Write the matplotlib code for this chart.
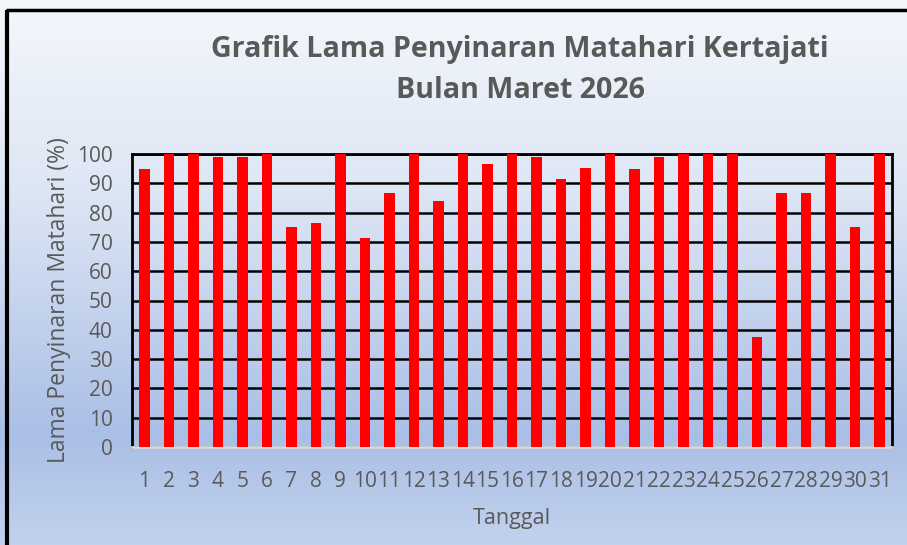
import matplotlib
matplotlib.use("Agg")
import matplotlib.pyplot as plt
import numpy as np
from matplotlib.colors import LinearSegmentedColormap

days = [str(i) for i in range(1, 32)]
values = [95, 100, 100, 99, 99, 100, 75, 76.3, 100, 71.4, 86.6, 100, 84.1, 100, 96.5,
          100, 99, 91.5, 95.1, 100, 95, 99, 100, 100, 100, 37.6, 86.6, 86.6, 100, 75, 100]
yticks = [0, 10, 20, 30, 40, 50, 60, 70, 80, 90, 100]
title = "Grafik Lama Penyinaran Matahari Kertajati\nBulan Maret 2026"
xlabel = "Tanggal"
ylabel = "Lama Penyinaran Matahari (%)"

plt.rcParams['font.family'] = ['Open Sans', 'DejaVu Sans']
W, H = 907, 545
fig = plt.figure(figsize=(W / 100, H / 100), dpi=100)

# background gradient
bg = fig.add_axes([0, 0, 1, 1], zorder=0)
cmap = LinearSegmentedColormap.from_list(
    "bg", [(0.0, "#f4f7fc"), (0.35, "#dde6f4"), (0.8, "#aabfe6"), (1.0, "#c2d2ed")])
grad = np.linspace(0, 1, 256).reshape(-1, 1)
bg.imshow(grad, aspect='auto', cmap=cmap, extent=[0, 1, 0, 1], origin='upper')
bg.set_xlim(0, 1)
bg.set_ylim(0, 1)
bg.axis('off')
# frame lines (top and left)
bg.plot([6 / W, 1], [1 - 10 / H, 1 - 10 / H], color='black', lw=2.5, solid_capstyle='butt')
bg.plot([7 / W, 7 / W], [0, 1 - 10 / H], color='black', lw=3, solid_capstyle='butt')

left, right, top, bottom = 132 / W, 892 / W, 154 / H, 447 / H
ax = fig.add_axes([left, 1 - bottom, right - left, bottom - top], zorder=1)
ax.patch.set_alpha(0)
x = np.arange(len(days))
ax.bar(x, values, width=0.43, color='#ff0000', zorder=3)
ax.set_xlim(-0.5, len(days) - 0.5)
ax.set_ylim(0, 100)
ax.set_yticks(yticks)
ax.set_xticks(x)
ax.set_xticklabels(days)
ax.yaxis.grid(True, color='black', lw=1.8, zorder=1)
ax.set_axisbelow(True)
for s in ['left', 'right', 'top']:
    ax.spines[s].set_color('black')
    ax.spines[s].set_linewidth(2)
ax.spines['bottom'].set_color('#d9d9d9')
ax.spines['bottom'].set_linewidth(2)
ax.tick_params(axis='both', length=0, labelsize=15, labelcolor='#595959')
ax.tick_params(axis='x', pad=17)
ax.tick_params(axis='y', pad=14)
ax.set_xlabel(xlabel, fontsize=15.5, color='#595959', labelpad=12)
ax.set_ylabel(ylabel, fontsize=16.5, color='#595959', labelpad=4)

fig.text(520 / W, 1 - 70 / H, title, ha='center', va='center', fontsize=20.6,
         fontweight='bold', color='#595959', linespacing=1.5)

fig.savefig("out.png", dpi=100)
